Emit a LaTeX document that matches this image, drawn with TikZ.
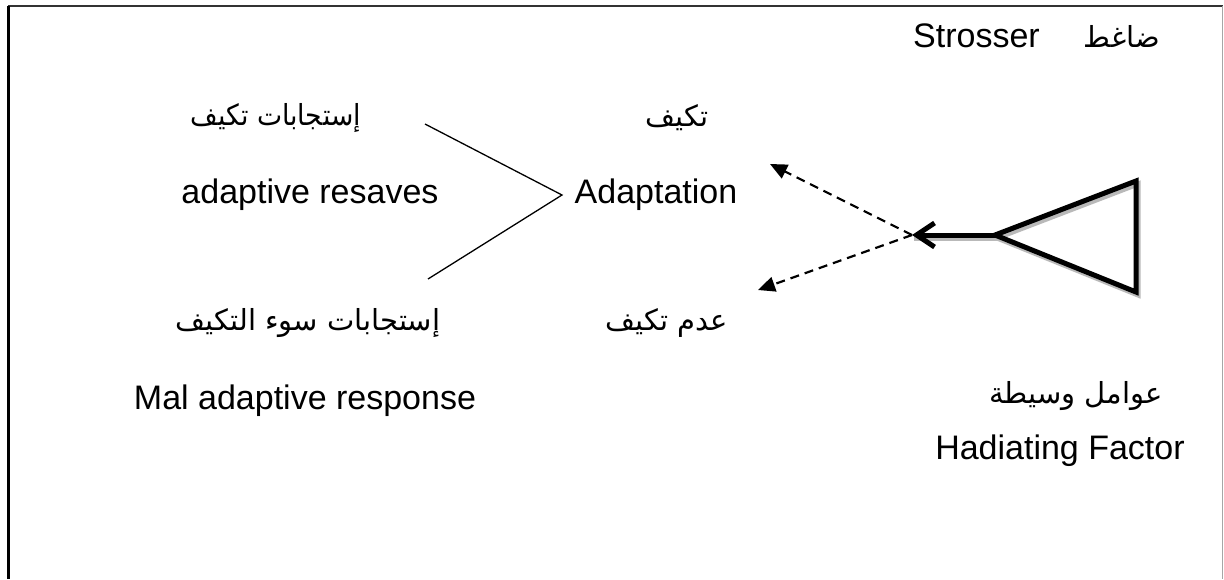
\documentclass[tikz,border=0pt]{standalone}
\usepackage{fontspec}
\setmainfont{Liberation Sans}
\newfontfamily\arabicfont[Script=Arabic]{DejaVu Sans}
\TeXXeTstate=1
\usetikzlibrary{arrows.meta}
\begin{document}
\begin{tikzpicture}[x=1pt,y=-1pt,
  lat/.style={inner sep=0pt,anchor=center,font=\fontsize{34}{40}\selectfont},
  ara/.style={inner sep=0pt,anchor=center,font=\arabicfont\fontsize{29}{34}\selectfont},
  thin line/.style={line width=1.3pt},
  dasharrow/.style={line width=2.2pt,dash pattern=on 9pt off 6pt,-{Triangle[length=17pt,width=15pt]}},
  thick line/.style={line width=5pt},
  shadow line/.style={line width=5pt,gray!55}]
\useasboundingbox (0,0) rectangle (1224,579);
\fill[white] (0,0) rectangle (1224,579);
% frame
\draw[line width=2.5pt,black!80] (8,6) -- (1223,6);
\draw[line width=3pt] (8,6) -- (8,579);
\draw[line width=1pt,black!35] (1222,6) -- (1222,579);
% texts
\node[ara] (dagit) at (1122,36) {\beginR ضاغط\endR};
\node[lat,anchor=east] (stress) at (1040,36) {Strosser};
\node[ara,xscale=0.92] (istAr) at (276,118) {\beginR إستجابات تكيف\endR};
\node[lat] (adres) at (310,195) {adaptive resaves};
\node[ara] (takAr) at (677,118) {\beginR تكيف\endR};
\node[lat] (adapt) at (656,195) {Adaptation};
\node[ara] (adamAr) at (667,323) {\beginR عدم تكيف\endR};
\node[ara] (malAr) at (308,323) {\beginR إستجابات سوء التكيف\endR};
\node[lat] (mal) at (305,401) {Mal adaptive response};
\node[ara] (awAr) at (1076,396) {\beginR عوامل وسيطة\endR};
\node[lat] (had) at (1060,451) {Hadiating Factor};
% thin connector
\coordinate (v) at (562,195);
\coordinate (u1) at (425,124);
\coordinate (u2) at (428,279);
\draw[thin line] (u1) -- (v) -- (u2);
% triangle
\coordinate (apex) at (995,235);
\coordinate (tr) at (1136,181);
\coordinate (br) at (1136,292);
\coordinate (hub) at (912,235);
\draw[shadow line,line join=miter] ([shift={(2,3)}]apex) -- ([shift={(2,3)}]tr) -- ([shift={(2,3)}]br) -- cycle;
\draw[shadow line] ([shift={(2,3)}]apex) -- ([shift={(2,3)}]hub);
\draw[thick line,line join=miter] (apex) -- (tr) -- (br) -- cycle;
\draw[thick line,-{Straight Barb[length=18pt,width=24pt,line width=5pt]}] (apex) -- (hub);
% dashed arrows
\coordinate (t1) at (770,164);
\coordinate (t2) at (758,290);
\draw[dasharrow] (hub) -- (t1);
\draw[dasharrow] (hub) -- (t2);
\end{tikzpicture}
\end{document}
